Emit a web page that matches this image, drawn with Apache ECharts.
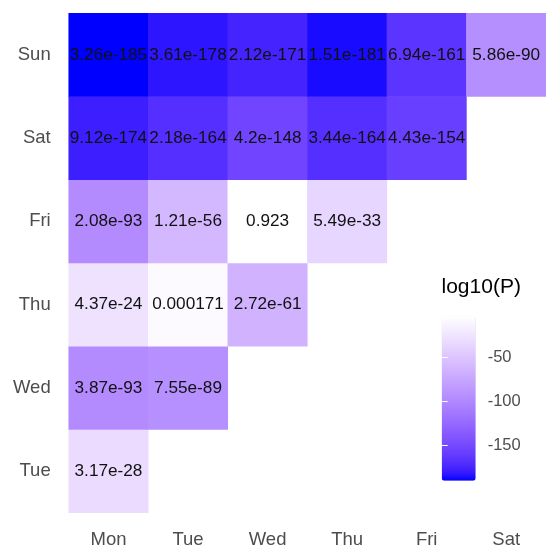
<!DOCTYPE html>
<html>
<head>
<meta charset="utf-8">
<script src="https://cdn.jsdelivr.net/npm/echarts@6/dist/echarts.min.js"></script>
<style>
  html, body { margin: 0; padding: 0; background: #ffffff; }
  #chart { width: 546px; height: 550px; }
</style>
</head>
<body>
<div id="chart"></div>
<script>
// ---- Data ----
const xDays = ['Mon', 'Tue', 'Wed', 'Thu', 'Fri', 'Sat'];
const yDays = ['Tue', 'Wed', 'Thu', 'Fri', 'Sat', 'Sun'];
// p-values per row (y category), in column order starting at Mon
const pTue = ['3.17e-28'];
const pWed = ['3.87e-93', '7.55e-89'];
const pThu = ['4.37e-24', '0.000171', '2.72e-61'];
const pFri = ['2.08e-93', '1.21e-56', '0.923', '5.49e-33'];
const pSat = ['9.12e-174', '2.18e-164', '4.2e-148', '3.44e-164', '4.43e-154'];
const pSun = ['3.26e-185', '3.61e-178', '2.12e-171', '1.51e-181', '6.94e-161', '5.86e-90'];
const legendTicks = [-50, -100, -150];
const legendTitle = 'log10(P)';

const rows = { Tue: pTue, Wed: pWed, Thu: pThu, Fri: pFri, Sat: pSat, Sun: pSun };

// ---- Build heatmap data ----
const data = [];
yDays.forEach(function (yd, yi) {
  rows[yd].forEach(function (p, xi) {
    data.push({ value: [xi, yi, Math.log10(Number(p))], label: p });
  });
});
const vals = data.map(d => d.value[2]);
const vMin = Math.min.apply(null, vals);
const vMax = Math.max.apply(null, vals);

// ---- Lab interpolation (blue -> white), like ggplot2 gradient ----
function srgbToLin(c) { c /= 255; return c <= 0.04045 ? c / 12.92 : Math.pow((c + 0.055) / 1.055, 2.4); }
function linToSrgb(c) { c = Math.max(0, Math.min(1, c)); return c <= 0.0031308 ? 12.92 * c : 1.055 * Math.pow(c, 1 / 2.4) - 0.055; }
function rgbToLab(r, g, b) {
  r = srgbToLin(r); g = srgbToLin(g); b = srgbToLin(b);
  let X = (0.4124 * r + 0.3576 * g + 0.1805 * b) / 0.95047;
  let Y = (0.2126 * r + 0.7152 * g + 0.0722 * b);
  let Z = (0.0193 * r + 0.1192 * g + 0.9505 * b) / 1.08883;
  const f = t => t > 0.008856 ? Math.cbrt(t) : 7.787 * t + 16 / 116;
  const fx = f(X), fy = f(Y), fz = f(Z);
  return [116 * fy - 16, 500 * (fx - fy), 200 * (fy - fz)];
}
function labToRgb(L, a, bb) {
  const fy = (L + 16) / 116, fx = fy + a / 500, fz = fy - bb / 200;
  const inv = t => t * t * t > 0.008856 ? t * t * t : (t - 16 / 116) / 7.787;
  const X = inv(fx) * 0.95047, Y = inv(fy), Z = inv(fz) * 1.08883;
  const r = 3.2406 * X - 1.5372 * Y - 0.4986 * Z;
  const g = -0.9689 * X + 1.8758 * Y + 0.0415 * Z;
  const b = 0.0557 * X - 0.2040 * Y + 1.0570 * Z;
  const h = v => ('0' + Math.round(linToSrgb(v) * 255).toString(16)).slice(-2);
  return '#' + h(r) + h(g) + h(b);
}
const labLow = rgbToLab(0, 0, 255), labHigh = rgbToLab(255, 255, 255);
const colorStops = [];
const N = 24;
for (let i = 0; i <= N; i++) {
  const t = i / N;
  colorStops.push(labToRgb(
    labLow[0] + (labHigh[0] - labLow[0]) * t,
    labLow[1] + (labHigh[1] - labLow[1]) * t,
    labLow[2] + (labHigh[2] - labLow[2]) * t));
}

const font = 'Liberation Sans, Arial, Helvetica, sans-serif';
const chart = echarts.init(document.getElementById('chart'));
chart.setOption({
  backgroundColor: '#ffffff',
  animation: false,
  textStyle: { fontFamily: font },
  grid: [
    { left: 68.7, top: 13.3, width: 480, height: 499.4 },
    { left: 441.7, top: 316.7, width: 34, height: 164 }
  ],
  xAxis: [
    {
      type: 'category', data: xDays, gridIndex: 0,
      axisLine: { show: false }, axisTick: { show: false }, splitLine: { show: false },
      axisLabel: { color: '#4d4d4d', fontSize: 18.5, margin: 18, fontFamily: font }
    },
    { type: 'value', gridIndex: 1, show: false }
  ],
  yAxis: [
    {
      type: 'category', data: yDays, gridIndex: 0,
      axisLine: { show: false }, axisTick: { show: false }, splitLine: { show: false },
      axisLabel: { color: '#4d4d4d', fontSize: 18.5, margin: 18, fontFamily: font }
    },
    {
      type: 'value', gridIndex: 1, position: 'right', min: -189.8, max: -3.4,
      z: 10,
      axisLine: { show: false }, splitLine: { show: false },
      axisTick: { show: true, inside: true, length: 6, lineStyle: { color: '#ffffff', width: 1 },
        customValues: legendTicks },
      axisLabel: { color: '#4d4d4d', fontSize: 16.5, margin: 12, fontFamily: font,
        customValues: legendTicks }
    },
    {
      type: 'value', gridIndex: 1, position: 'left', min: -189.8, max: -3.4,
      z: 10,
      axisLine: { show: false }, splitLine: { show: false },
      axisTick: { show: true, inside: true, length: 6, lineStyle: { color: '#ffffff', width: 1 },
        customValues: legendTicks },
      axisLabel: { show: false }
    }
  ],
  visualMap: {
    type: 'continuous',
    min: vMin, max: vMax,
    dimension: 2,
    seriesIndex: 0,
    calculable: false,
    orient: 'vertical',
    left: 441.7, top: 316.7,
    itemWidth: 34, itemHeight: 164,
    padding: 0,
    text: null,
    showLabel: false,
    inRange: { color: colorStops }
  },
  graphic: [
    {
      type: 'text', left: 441.5, top: 277,
      style: { text: legendTitle, fill: '#000000', fontSize: 21, fontFamily: font }
    }
  ],
  series: [
    {
      type: 'heatmap',
      xAxisIndex: 0, yAxisIndex: 0,
      data: data,
      label: {
        show: true,
        formatter: function (p) { return p.data.label; },
        color: '#111111', fontSize: 17.2, fontFamily: font
      },
      itemStyle: { borderWidth: 0 },
      emphasis: { disabled: true }
    }
  ]
});
</script>
</body>
</html>
